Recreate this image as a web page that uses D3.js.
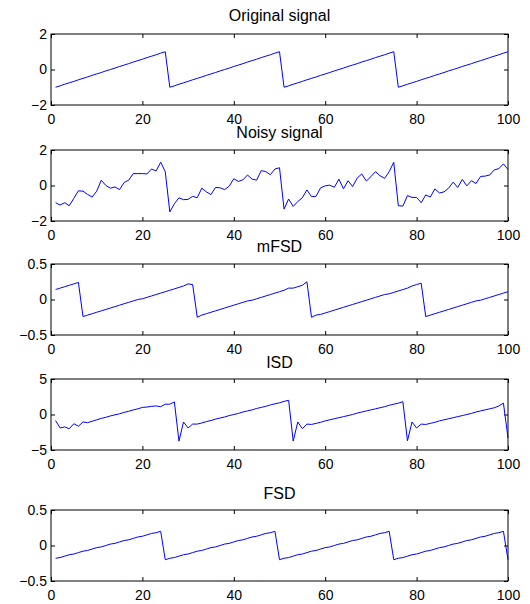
<!DOCTYPE html>
<html>
<head>
<meta charset="utf-8">
<script src="https://cdn.jsdelivr.net/npm/d3@7"></script>
<style>
  body { margin: 0; background: #fff; }
  text { font-family: "Liberation Sans", Arial, Helvetica, sans-serif; fill: #000; }
</style>
</head>
<body>
<div id="chart"></div>
<script>
// values, sample index 1..100
const original = [
  -1, -0.92, -0.83, -0.75, -0.67, -0.58, -0.5, -0.42, -0.33, -0.25, -0.17, -0.08, 0, 0.08, 0.17, 0.25, 0.33, 0.42, 0.5, 0.58, 0.67, 0.75, 0.83, 0.92, 1,
  -1, -0.92, -0.83, -0.75, -0.67, -0.58, -0.5, -0.42, -0.33, -0.25, -0.17, -0.08, 0, 0.08, 0.17, 0.25, 0.33, 0.42, 0.5, 0.58, 0.67, 0.75, 0.83, 0.92, 1,
  -1, -0.92, -0.83, -0.75, -0.67, -0.58, -0.5, -0.42, -0.33, -0.25, -0.17, -0.08, 0, 0.08, 0.17, 0.25, 0.33, 0.42, 0.5, 0.58, 0.67, 0.75, 0.83, 0.92, 1,
  -1, -0.92, -0.83, -0.75, -0.67, -0.58, -0.5, -0.42, -0.33, -0.25, -0.17, -0.08, 0, 0.08, 0.17, 0.25, 0.33, 0.42, 0.5, 0.58, 0.67, 0.75, 0.83, 0.92, 1
]

const noisy = [
  -0.97, -1.1, -0.97, -1.14, -0.72, -0.3, -0.32, -0.5, -0.65, -0.32,
  0.3, 0, -0.15, -0.08, -0.23, 0.17, 0.3, 0.67, 0.67, 0.67,
  0.65, 0.93, 0.82, 1.31, 0.78, -1.49, -1.03, -0.69, -0.8, -0.78,
  -0.61, -0.69, -0.15, -0.36, -0.51, -0.11, -0.13, -0.23, -0.04, 0.38,
  0.23, 0.32, 0.59, 0.36, 0.3, 0.84, 0.78, 0.61, 0.93, 1.0,
  -1.33, -0.76, -1.18, -0.9, -0.69, -0.25, -0.63, -0.61, -0.13, -0.02,
  0.02, -0.1, 0.36, -0.19, 0.27, -0.06, 0.42, 0.65, 0.25, 0.5,
  0.78, 0.55, 0.4, 0.78, 1.31, -1.14, -1.16, -0.57, -0.67, -0.67,
  -0.97, -0.53, -0.65, -0.19, -0.42, -0.36, -0.15, 0.19, -0.11, 0.34,
  -0.02, 0.27, 0.11, 0.51, 0.53, 0.59, 0.88, 0.95, 1.22, 0.9
]

const mfsd = [
  0.14, 0.16, 0.18, 0.20, 0.22, 0.24, -0.24, -0.22, -0.20, -0.18,
  -0.16, -0.14, -0.12, -0.10, -0.08, -0.06, -0.04, -0.02, 0.00, 0.01,
  0.03, 0.05, 0.07, 0.09, 0.11, 0.13, 0.15, 0.17, 0.19, 0.22, 0.21,
  -0.25, -0.22, -0.20, -0.18, -0.16, -0.14, -0.12, -0.10, -0.08, -0.06, -0.04, -0.02, -0.01,
  0.01, 0.03, 0.05, 0.07, 0.09, 0.11, 0.13, 0.16, 0.16, 0.18, 0.20, 0.25,
  -0.25, -0.22, -0.21, -0.19, -0.17, -0.15, -0.13, -0.11, -0.09, -0.07, -0.05, -0.03, -0.01,
  0.01, 0.03, 0.05, 0.07, 0.08, 0.10, 0.12, 0.14, 0.16, 0.19, 0.21, 0.23,
  -0.24, -0.22, -0.20, -0.18, -0.16, -0.14, -0.12, -0.10, -0.08, -0.06, -0.04, -0.02, -0.01,
  0.01, 0.03, 0.05, 0.07, 0.09, 0.11
]

const isd = [
  -0.85, -1.9, -1.75, -2.0, -1.3, -1.65, -1.05, -1.15,
  -0.95, -0.75, -0.55, -0.4, -0.2, -0.05, 0.1, 0.3, 0.45, 0.65, 0.8, 1.0, 1.05, 1.15, 1.2, 1.1, 1.45, 1.45, 1.77,
  -3.75, -1.05, -1.9, -1.35, -1.35,
  -1.2, -1.0, -0.85, -0.65, -0.5, -0.35, -0.15, 0.0, 0.15, 0.35, 0.5, 0.65, 0.85, 1.0, 1.15, 1.35, 1.5, 1.65, 1.85, 2.0,
  -3.75, -1.05, -2.0, -1.35, -1.4,
  -1.25, -1.1, -0.9, -0.75, -0.6, -0.45, -0.3, -0.15, 0.0, 0.2, 0.35, 0.5, 0.65, 0.8, 0.95, 1.1, 1.3, 1.45, 1.6, 1.8,
  -3.7, -1.05, -1.9, -1.35, -1.4,
  -1.25, -1.1, -0.9, -0.75, -0.6, -0.45, -0.3, -0.15, 0.0, 0.15, 0.35, 0.5, 0.65, 0.8, 0.95, 1.2, 1.6, -3.3
]

const fsd = [
  -0.18, -0.17, -0.15, -0.13, -0.12, -0.10, -0.08, -0.07, -0.05, -0.03, -0.02, 0.00, 0.02, 0.03, 0.05, 0.07, 0.08, 0.10, 0.12, 0.13, 0.15, 0.17, 0.18, 0.20,
  -0.20, -0.18, -0.17, -0.15, -0.13, -0.12, -0.10, -0.08, -0.07, -0.05, -0.03, -0.02, 0.00, 0.02, 0.03, 0.05, 0.07, 0.08, 0.10, 0.12, 0.13, 0.15, 0.17, 0.18, 0.20,
  -0.20, -0.18, -0.17, -0.15, -0.13, -0.12, -0.10, -0.08, -0.07, -0.05, -0.03, -0.02, 0.00, 0.02, 0.03, 0.05, 0.07, 0.08, 0.10, 0.12, 0.13, 0.15, 0.17, 0.18, 0.20,
  -0.20, -0.18, -0.17, -0.15, -0.13, -0.12, -0.10, -0.08, -0.07, -0.05, -0.03, -0.02, 0.00, 0.02, 0.03, 0.05, 0.07, 0.08, 0.10, 0.12, 0.13, 0.15, 0.17, 0.18, 0.20,
  -0.20
]

const titles = ["Original signal", "Noisy signal", "mFSD", "ISD", "FSD"]
const xDomain = [0, 100]
const xTicks = [0, 20, 40, 60, 80, 100]
const yDomains = [[-2, 2], [-2, 2], [-0.5, 0.5], [-5, 5], [-0.5, 0.5]]
const yTicks = [[-2, 0, 2], [-2, 0, 2], [-0.5, 0, 0.5], [-5, 0, 5], [-0.5, 0, 0.5]]
const series = [original, noisy, mfsd, isd, fsd]

// layout of the five stacked axes (pixels)
const left = 51, right = 508, plotH = 71
const panelTop = [34, 150, 264, 379, 510]
const titleY = [21, 137.5, 252, 368, 499]

const fmt = v => (v === 0 ? "0" : String(v)).replace("-", "\u2212")

const svg = d3.select("#chart").append("svg")
  .attr("width", 530)
  .attr("height", 604)

const x = d3.scaleLinear().domain(xDomain).range([0, right - left])

series.forEach(function(values, i) {
  const g = svg.append("g")
    .attr("transform", "translate(" + left + "," + panelTop[i] + ")")

  const y = d3.scaleLinear().domain(yDomains[i]).range([plotH, 0])

  // ticks on all four sides, pointing inwards; labels only left and bottom
  g.append("g")
    .attr("transform", "translate(0," + plotH + ")")
    .call(d3.axisBottom(x).tickValues(xTicks).tickFormat(fmt).tickSizeInner(-4).tickSizeOuter(0).tickPadding(9))
  g.append("g")
    .call(d3.axisTop(x).tickValues(xTicks).tickFormat("").tickSizeInner(-4).tickSizeOuter(0))
  g.append("g")
    .call(d3.axisLeft(y).tickValues(yTicks[i]).tickFormat(fmt).tickSizeInner(-4).tickSizeOuter(0).tickPadding(4))
  g.append("g")
    .attr("transform", "translate(" + (right - left) + ",0)")
    .call(d3.axisRight(y).tickValues(yTicks[i]).tickFormat("").tickSizeInner(-4).tickSizeOuter(0))

  g.selectAll(".domain").remove()
  g.selectAll(".tick line").attr("stroke", "#000")
  g.selectAll(".tick text")
    .style("font-size", "14px")
    .attr("fill", "#000")

  // box
  g.append("rect")
    .attr("width", right - left)
    .attr("height", plotH)
    .attr("fill", "none")
    .attr("stroke", "#000")
    .attr("stroke-width", 1)

  const line = d3.line()
    .x((d, k) => x(k + 1))
    .y(d => y(d))

  g.append("path")
    .datum(values)
    .attr("fill", "none")
    .attr("stroke", "#0000ff")
    .attr("stroke-width", 1)
    .attr("d", line)

  svg.append("text")
    .attr("x", (left + right) / 2)
    .attr("y", titleY[i])
    .attr("text-anchor", "middle")
    .style("font-size", "16px")
    .text(titles[i])
})
</script>
</body>
</html>
